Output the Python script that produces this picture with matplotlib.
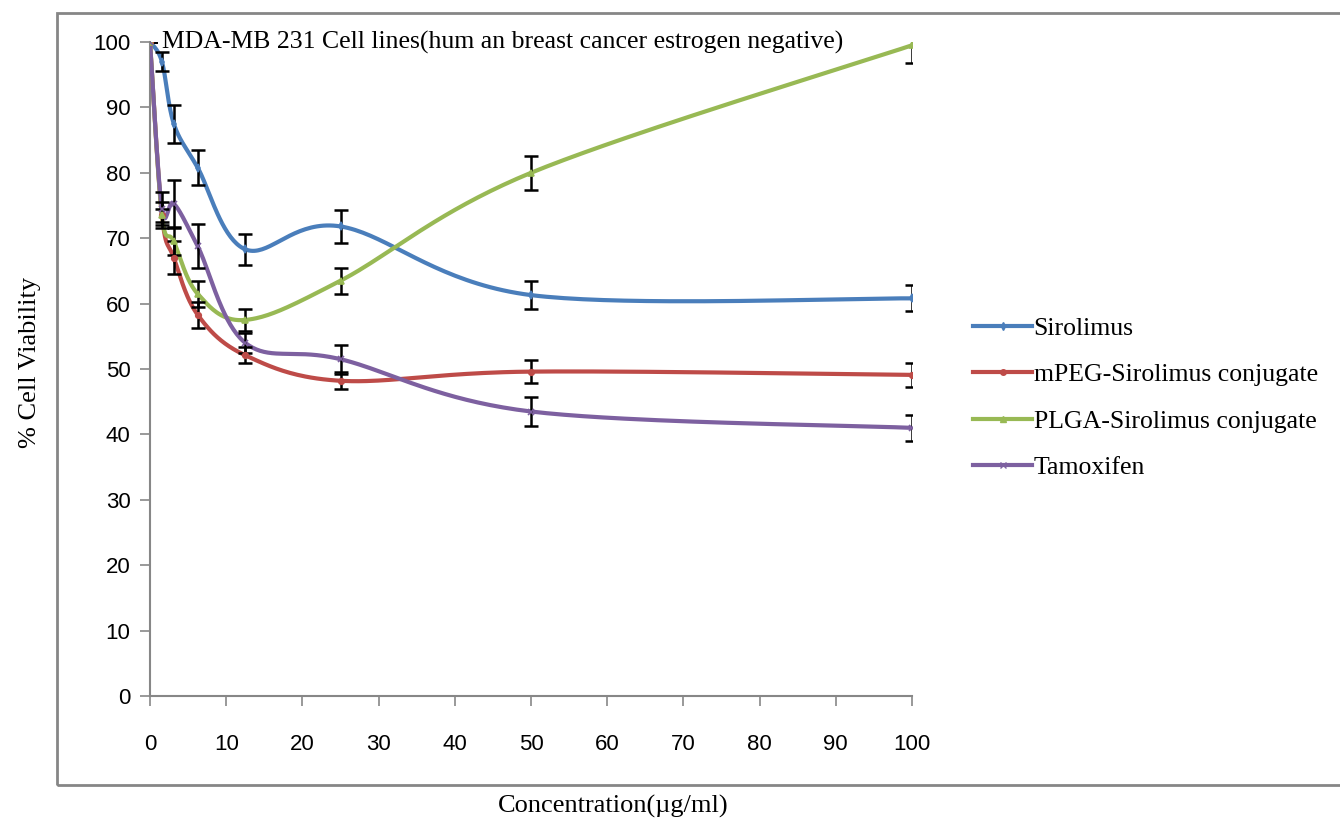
import numpy as np
import matplotlib
matplotlib.use("Agg")
import matplotlib.pyplot as plt
from matplotlib.patches import Rectangle

# concentrations (ug/ml)
conc = [0, 1.5625, 3.125, 6.25, 12.5, 25, 50, 100]

# % cell viability for each formulation
sirolimus = [100, 97.0, 87.5, 80.8, 68.3, 71.8, 61.3, 60.8]
sirolimus_err = [0, 1.5, 2.9, 2.7, 2.4, 2.5, 2.1, 2.0]
mpeg = [100, 73.5, 67.0, 58.3, 52.1, 48.2, 49.6, 49.1]
mpeg_err = [0, 2.0, 2.5, 2.0, 1.2, 1.3, 1.8, 1.8]
plga = [100, 73.5, 69.5, 61.5, 57.5, 63.5, 80.0, 99.5]
plga_err = [0, 1.0, 2.0, 2.0, 1.7, 2.0, 2.6, 2.7]
tamox = [100, 74.5, 75.3, 68.8, 54.0, 51.5, 43.5, 41.0]
tamox_err = [0, 2.5, 3.6, 3.4, 1.5, 2.2, 2.2, 2.0]

names = ["Sirolimus", "mPEG-Sirolimus conjugate", "PLGA-Sirolimus conjugate", "Tamoxifen"]
colors = ["#4a7ebb", "#be4b48", "#98b954", "#7d60a0"]
markers = ["d", "o", "^", "x"]

title = "MDA-MB 231 Cell lines(hum an breast cancer estrogen negative)"

serif = ["Liberation Serif", "DejaVu Serif"]
narrow = ["Liberation Sans Narrow", "Liberation Sans", "DejaVu Sans"]


def smooth(x, y, n=40):
    # excel style smoothed line: bezier with catmull-rom control points
    x = np.asarray(x, float)
    y = np.asarray(y, float)
    px = np.concatenate(([x[0]], x, [x[-1]]))
    py = np.concatenate(([y[0]], y, [y[-1]]))
    t = np.linspace(0, 1, n)
    xs, ys = [], []
    for i in range(1, len(px) - 2):
        p0 = np.array([px[i], py[i]])
        p3 = np.array([px[i + 1], py[i + 1]])
        c1 = p0 + (np.array([px[i + 1], py[i + 1]]) - np.array([px[i - 1], py[i - 1]])) / 6
        c2 = p3 - (np.array([px[i + 2], py[i + 2]]) - np.array([px[i], py[i]])) / 6
        b = ((1 - t) ** 3)[:, None] * p0 + (3 * (1 - t) ** 2 * t)[:, None] * c1 \
            + (3 * (1 - t) * t ** 2)[:, None] * c2 + (t ** 3)[:, None] * p3
        xs.append(b[:, 0])
        ys.append(b[:, 1])
    return np.concatenate(xs), np.concatenate(ys)


fig = plt.figure(figsize=(13.4, 8.26), dpi=100)
ax = fig.add_axes([150 / 1340, 1 - 696 / 826, (912 - 150) / 1340, (696 - 42) / 826])

# outer chart frame
fig.patches.append(Rectangle((57 / 1340, 1 - 785 / 826), 1.0, (785 - 13) / 826,
                             transform=fig.transFigure, fill=False,
                             edgecolor="#868686", linewidth=2, clip_on=False))

series = [(sirolimus, sirolimus_err), (mpeg, mpeg_err), (plga, plga_err), (tamox, tamox_err)]
for (vals, errs), name, c, m in zip(series, names, colors, markers):
    sx, sy = smooth(conc, vals)
    ax.plot(sx, sy, color=c, lw=3, solid_capstyle="round", zorder=3)
    ax.errorbar(conc, vals, yerr=errs, fmt="none", ecolor="black",
                elinewidth=1.8, capsize=5, capthick=1.8, zorder=4)
    ax.plot(conc, vals, linestyle="none", marker=m, color=c, ms=4, mew=1.2, zorder=5)
    ax.plot([], [], color=c, lw=3, marker=m, ms=4, label=name)

ax.set_xlim(0, 100)
ax.set_ylim(0, 100)
ax.set_xticks(np.arange(0, 101, 10))
ax.set_yticks(np.arange(0, 101, 10))
for s in ["top", "right"]:
    ax.spines[s].set_visible(False)
for s in ["left", "bottom"]:
    ax.spines[s].set_color("#878787")
    ax.spines[s].set_linewidth(1.5)
ax.tick_params(axis="both", colors="#878787", length=7, width=1.2,
               labelcolor="black", labelsize=16)
ax.tick_params(axis="x", pad=20)
ax.tick_params(axis="y", pad=7)
for lab in ax.get_xticklabels() + ax.get_yticklabels():
    lab.set_family(narrow)

ax.text(1.6, 100, title, family=serif, fontsize=18.5, va="center", ha="left", zorder=6)

fig.text(613 / 1340, 1 - 806 / 826, "Concentration(µg/ml)", family=serif,
         fontsize=19, ha="center", va="center")
fig.text(30 / 1340, 1 - 362 / 826, "% Cell Viability", family=serif,
         fontsize=19, ha="center", va="center", rotation=90)

leg = fig.legend(loc="center left", bbox_to_anchor=(950 / 1340, 1 - 398 / 826),
                 frameon=False, prop={"family": serif, "size": 18.5},
                 handlelength=2.3, handletextpad=0.05, labelspacing=0.92)

fig.savefig("out.png", dpi=100)
